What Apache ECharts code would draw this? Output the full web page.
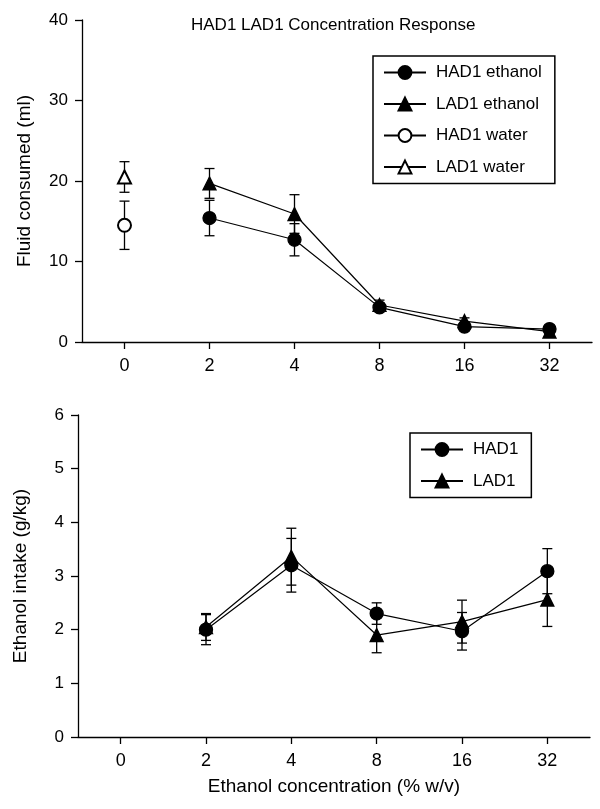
<!DOCTYPE html>
<html>
<head>
<meta charset="utf-8">
<script src="https://cdn.jsdelivr.net/npm/echarts@6/dist/echarts.min.js"></script>
<style>
  html, body { margin: 0; padding: 0; background: #fff; }
  #chart { width: 600px; height: 809px; }
</style>
</head>
<body>
<div id="chart"></div>
<script>
// x categories (% w/v), same for both panels
const concLabels = ['0', '2', '4', '8', '16', '32'];

// top panel: fluid consumed (ml), mean and error
const hadEthanol = [null, 15.4, 12.7, 4.3, 1.9, 1.6];
const hadEthanolErr = [null, 2.2, 2.0, 0.5, 0.4, 0.3];
const ladEthanol = [null, 19.7, 15.9, 4.6, 2.6, 1.3];
const ladEthanolErr = [null, 1.85, 2.4, 0.6, 0.4, 0.3];
const hadWater = [14.5, null, null, null, null, null];
const hadWaterErr = [3.0, null, null, null, null, null];
const ladWater = [20.5, null, null, null, null, null];
const ladWaterErr = [1.9, null, null, null, null, null];

// bottom panel: ethanol intake (g/kg)
const hadIntake = [null, 2.0, 3.2, 2.3, 1.97, 3.09];
const hadIntakeErr = [null, 0.28, 0.5, 0.2, 0.35, 0.42];
const ladIntake = [null, 2.05, 3.36, 1.9, 2.15, 2.56];
const ladIntakeErr = [null, 0.25, 0.53, 0.33, 0.4, 0.5];

const FONT = "'Liberation Sans', Arial, sans-serif";

// turn mean/err arrays into [index, low, high] rows for the error bar series
function errRows(vals, errs) {
  const rows = [];
  vals.forEach((v, i) => {
    if (v != null) rows.push([i, v - errs[i], v + errs[i]]);
  });
  return rows;
}

function renderErr(params, api) {
  const x = api.value(0);
  const top = api.coord([x, api.value(2)]);
  const bot = api.coord([x, api.value(1)]);
  const w = 5;
  const st = { stroke: '#000', lineWidth: 1.3 };
  return {
    type: 'group',
    children: [
      { type: 'line', shape: { x1: top[0], y1: top[1], x2: bot[0], y2: bot[1] }, style: st },
      { type: 'line', shape: { x1: top[0] - w, y1: top[1], x2: top[0] + w, y2: top[1] }, style: st },
      { type: 'line', shape: { x1: bot[0] - w, y1: bot[1], x2: bot[0] + w, y2: bot[1] }, style: st }
    ]
  };
}

function errSeries(idx, vals, errs) {
  return {
    type: 'custom',
    xAxisIndex: idx,
    yAxisIndex: idx,
    renderItem: renderErr,
    encode: { x: 0, y: [1, 2] },
    data: errRows(vals, errs),
    z: 1,
    silent: true
  };
}

function lineSeries(idx, name, vals, symbol) {
  return {
    type: 'line',
    name: name,
    xAxisIndex: idx,
    yAxisIndex: idx,
    data: vals,
    symbol: symbol,
    symbolSize: 13,
    showAllSymbol: true,
    connectNulls: false,
    color: '#000',
    itemStyle: { color: '#000', borderColor: '#000', borderWidth: 1.3 },
    lineStyle: { color: '#000', width: 1.2 },
    z: 3,
    animation: false
  };
}

function xAx(idx, withName) {
  const ax = {
    type: 'category',
    gridIndex: idx,
    data: concLabels,
    boundaryGap: true,
    axisLine: { show: true, lineStyle: { color: '#000', width: 1.3 } },
    axisTick: { show: true, alignWithLabel: true, length: 7, lineStyle: { color: '#000', width: 1.3 } },
    axisLabel: { color: '#000', fontSize: 18, fontFamily: FONT, margin: 15 },
    splitLine: { show: false }
  };
  if (withName) {
    ax.name = 'Ethanol concentration (% w/v)';
    ax.nameLocation = 'middle';
    ax.nameGap = 40;
    ax.nameTextStyle = { color: '#000', fontSize: 19, fontFamily: FONT };
  }
  return ax;
}

function yAx(idx, name, max, interval) {
  return {
    type: 'value',
    gridIndex: idx,
    min: 0,
    max: max,
    interval: interval,
    name: name,
    nameLocation: 'middle',
    nameGap: 48,
    nameTextStyle: { color: '#000', fontSize: 19, fontFamily: FONT },
    axisLine: { show: true, lineStyle: { color: '#000', width: 1.3 } },
    axisTick: { show: true, length: 7, lineStyle: { color: '#000', width: 1.3 } },
    axisLabel: { color: '#000', fontSize: 17, fontFamily: FONT, margin: 14 },
    splitLine: { show: false }
  };
}

function legendBox(left, top, names) {
  return {
    orient: 'vertical',
    left: left,
    top: top,
    data: names,
    padding: [8, 13, 8, 10],
    itemWidth: 42,
    itemHeight: 16,
    itemGap: 14.5,
    borderColor: '#000',
    borderWidth: 1.5,
    backgroundColor: '#fff',
    selectedMode: false,
    textStyle: { color: '#000', fontSize: 17, fontFamily: FONT, lineHeight: 16, padding: [0, 0, 0, 5] }
  };
}

const chart = echarts.init(document.getElementById('chart'));

chart.setOption({
  animation: false,
  backgroundColor: '#fff',
  textStyle: { fontFamily: FONT },
  title: {
    text: 'HAD1 LAD1 Concentration Response',
    left: 186,
    top: 12,
    textStyle: { color: '#000', fontSize: 17, fontWeight: 'normal', fontFamily: FONT }
  },
  legend: [
    legendBox(373, 56, ['HAD1 ethanol', 'LAD1 ethanol', 'HAD1 water', 'LAD1 water']),
    legendBox(410, 433, ['HAD1', 'LAD1'])
  ],
  grid: [
    { left: 82, top: 20, width: 510, height: 322 },
    { left: 78, top: 415, width: 512, height: 322 }
  ],
  xAxis: [xAx(0, false), xAx(1, true)],
  yAxis: [
    yAx(0, 'Fluid consumed (ml)', 40, 10),
    yAx(1, 'Ethanol intake (g/kg)', 6, 1)
  ],
  series: [
    errSeries(0, hadEthanol, hadEthanolErr),
    errSeries(0, ladEthanol, ladEthanolErr),
    errSeries(0, hadWater, hadWaterErr),
    errSeries(0, ladWater, ladWaterErr),
    lineSeries(0, 'HAD1 ethanol', hadEthanol, 'circle'),
    lineSeries(0, 'LAD1 ethanol', ladEthanol, 'triangle'),
    lineSeries(0, 'HAD1 water', hadWater, 'emptyCircle'),
    lineSeries(0, 'LAD1 water', ladWater, 'emptyTriangle'),
    errSeries(1, hadIntake, hadIntakeErr),
    errSeries(1, ladIntake, ladIntakeErr),
    lineSeries(1, 'HAD1', hadIntake, 'circle'),
    lineSeries(1, 'LAD1', ladIntake, 'triangle')
  ]
});
</script>
</body>
</html>
